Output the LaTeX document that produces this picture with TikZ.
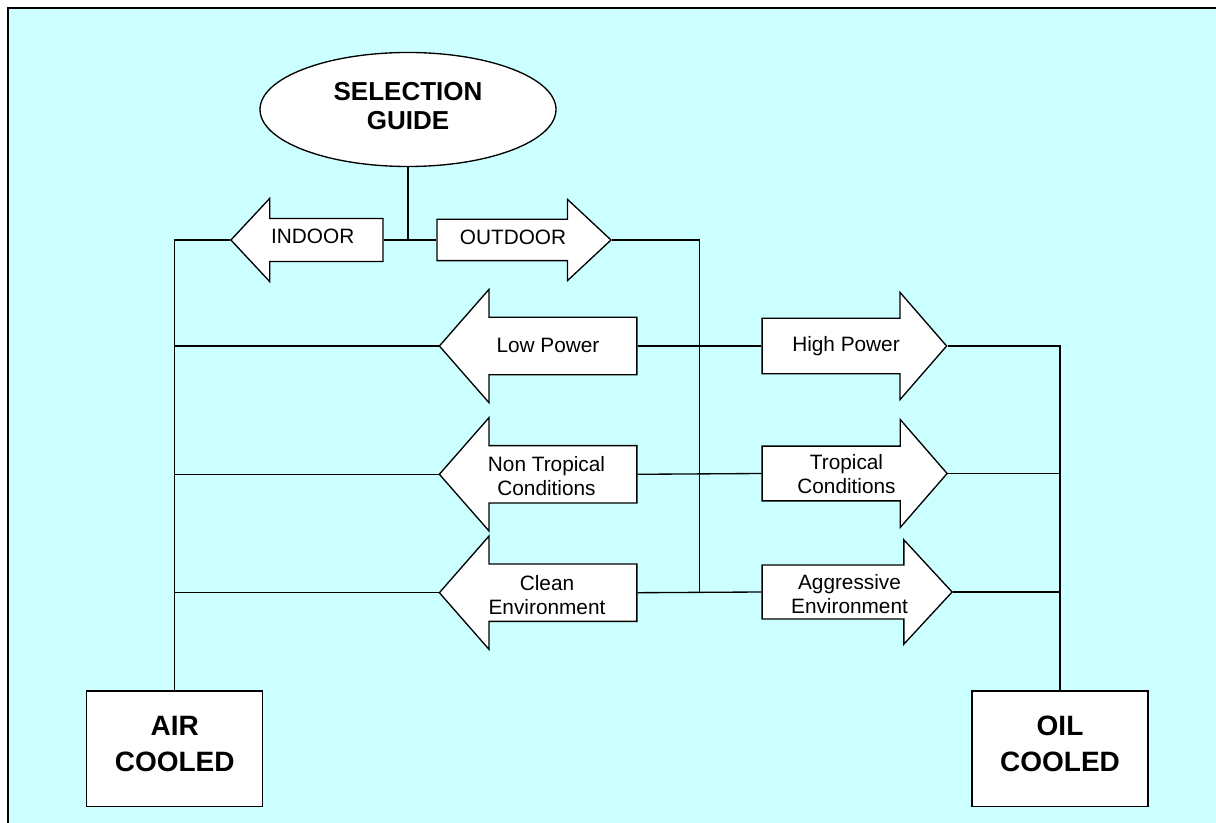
\documentclass[tikz,border=0pt]{standalone}
\usepackage{fontspec}
\setmainfont{Liberation Sans}
\usepackage{tikz}
\usetikzlibrary{shapes}
\usetikzlibrary{shapes.arrows}
\definecolor{guidebg}{HTML}{CCFFFF}
\tikzset{
  choice/.style n args={4}{single arrow, draw, fill=white, line width=1pt, anchor=tip,
    inner xsep=0pt, inner ysep=#2*0.75pt, minimum height=#1*0.75pt,
    minimum width=#3*1.5pt, single arrow head extend=(#3-#2)*0.75pt,
    single arrow tip angle=#4},
  choicetext/.style={font=\fontsize{15.6}{18}\selectfont, align=center, inner sep=0pt},
  cooling/.style={draw, fill=white, line width=1pt, minimum width=132pt, minimum height=86.8pt,
    font=\bfseries\fontsize{21}{26.8}\selectfont, align=center, text depth=7.5pt},
  link/.style={line width=1pt}
}

\begin{document}
\begin{tikzpicture}[x=0.75pt, y=-0.75pt]
%%% frame %%%
      \useasboundingbox (0,0) rectangle (1216,823);
      \clip (0,0) rectangle (1216,823);
      \draw[line width=1.5pt, fill=guidebg] (8,8) rectangle (1240,850);

%%% selection guide %%%
      \node[ellipse, draw, fill=white, line width=1pt, minimum width=222pt, minimum height=85.5pt,
        inner sep=0pt, font=\bfseries\fontsize{19.5}{21.75}\selectfont, align=center, text depth=5.25pt]
        (guide) at (408,109.5) {SELECTION\\GUIDE};
      %%
      \node[choice={152}{20.8}{41}{94}, shape border rotate=180] (indoor) at (230,240) {};
      \node[choice={174}{20}{40}{86}] (outdoor) at (612,240) {};
      \node[choicetext, anchor=base] (indoor-txt) at (312.7,244) {INDOOR};
      \node[choicetext, anchor=base] (outdoor-txt) at (513,245) {OUTDOOR};
      %%
      \node[choice={197.5}{28}{56}{97.6}, shape border rotate=180] (lowpow) at (438.5,346) {};
      \node[choice={197.5}{28}{56}{97.6}, shape border rotate=180] (nontrop) at (438.5,474.3) {};
      \node[choice={197.5}{28}{56}{97.6}, shape border rotate=180] (clean) at (438.5,592.7) {};
      \node[choicetext, anchor=base] (lowpow-txt) at (548,352.3) {Low Power};
      \node[choicetext] (nontrop-txt) at (546.5,476.3) {Non Tropical\\Conditions};
      \node[choicetext] (clean-txt) at (547,595.5) {Clean\\Environment};
      %%
      \node[choice={184.5}{27}{53}{98}] (highpow) at (947.5,346) {};
      \node[choice={185}{26.7}{53.3}{98}] (trop) at (948,473.5) {};
      \node[choice={190}{26.3}{51.5}{94.5}] (aggr) at (953,592) {};
      \node[choicetext, anchor=base] (highpow-txt) at (846,351.5) {High Power};
      \node[choicetext] (trop-txt) at (846.5,473.7) {Tropical\\Conditions};
      \node[choicetext] (aggr-txt) at (849.5,594) {Aggressive\\Environment};
      %%
      \node[cooling] (air) at (174.7,748.8) {AIR\\COOLED};
      \node[cooling] (oil) at (1060,748.8) {OIL\\COOLED};

%%% connections %%%
      \draw[link] (guide.south) -- (guide.south |- indoor.tail);
      \draw[link] (indoor.tail) -- (outdoor.tail);
      \draw[link] (indoor.tip) -| (air.north);
      \draw[link] (lowpow.tip) -- (lowpow.tip -| air.north);
      \draw[link] (nontrop.tip) -- (nontrop.tip -| air.north);
      \draw[link] (clean.tip) -- (clean.tip -| air.north);
      \coordinate (drop) at (699.5,592.7);
      \draw[link] (outdoor.tip) -| (drop);
      \draw[link] (lowpow.tail) -- (highpow.tail);
      \draw[link] (nontrop.tail) -- (trop.tail);
      \draw[link] (clean.tail) -- (aggr.tail);
      \draw[link] (highpow.tip) -| (oil.north);
      \draw[link] (trop.tip) -- (trop.tip -| oil.north);
      \draw[link] (aggr.tip) -- (aggr.tip -| oil.north);
\end{tikzpicture}
\end{document}
